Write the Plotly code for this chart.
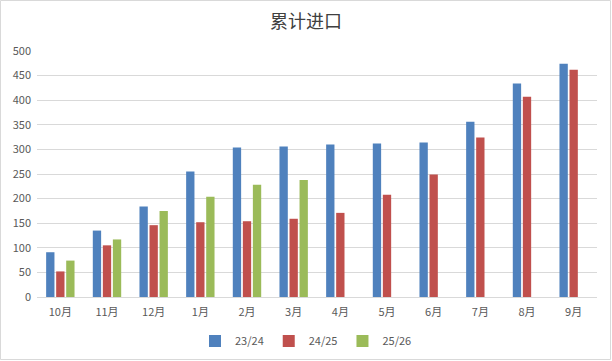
import plotly.graph_objects as go

categories = ["10月", "11月", "12月", "1月", "2月", "3月", "4月", "5月", "6月", "7月", "8月", "9月"]
s_2324 = [91, 135, 184, 255, 304, 306, 310, 312, 314, 356, 434, 474]
s_2425 = [52, 105, 146, 152, 154, 159, 171, 208, 249, 324, 407, 462]
s_2526 = [74, 117, 175, 204, 228, 238, None, None, None, None, None, None]
series_names = ["23/24", "24/25", "25/26"]
colors = ["#4F81BD", "#C0504D", "#9BBB59"]

W, H = 612, 361
ml, mr, mt, mb = 37, 15, 51, 64
pw, ph = W - ml - mr, H - mt - mb

fig = go.Figure()
for name, vals, c in zip(series_names, [s_2324, s_2425, s_2526], colors):
    fig.add_trace(go.Bar(x=categories, y=vals, name=name, marker=dict(color=c, line=dict(width=0))))

font_family = "Microsoft YaHei, Noto Sans CJK SC, sans-serif"
fig.update_layout(
    width=W, height=H,
    margin=dict(l=ml, r=mr, t=mt, b=mb, autoexpand=False),
    paper_bgcolor="white", plot_bgcolor="white",
    barmode="group", bargap=0.355, bargroupgap=0.17,
    font=dict(family=font_family, size=11, color="#595959"),
    title=dict(text="累计进口", x=0.5, xanchor="center", y=1 - 22 / H, yanchor="middle",
               font=dict(size=18, color="#404040", family=font_family)),
    legend=dict(orientation="h", x=(306 - ml) / pw, xanchor="center", y=-(341 - 297) / ph, yanchor="middle",
                font=dict(size=11, color="#595959"), itemwidth=30, tracegroupgap=0),
    showlegend=True,
)
fig.update_yaxes(range=[0, 500], dtick=50, showgrid=True, gridcolor="#D9D9D9", gridwidth=1,
                 zeroline=False, showline=False, ticks="", ticklabelstandoff=5,
                 tickfont=dict(size=11, color="#595959"))
fig.update_xaxes(showline=True, linecolor="#D9D9D9", linewidth=1, ticks="", showgrid=False,
                 ticklabelstandoff=5, tickfont=dict(size=11, color="#595959"))
fig.add_shape(type="rect", xref="paper", yref="paper",
              x0=(-ml + 0.5) / pw, x1=(pw + mr - 1.5) / pw,
              y0=(-mb + 1.5) / ph, y1=(ph + mt - 0.5) / ph,
              line=dict(color="#D9D9D9", width=1), fillcolor="rgba(0,0,0,0)", layer="below")
fig.write_html("out.html", config={"displayModeBar": False},
               post_script="document.body.style.margin='0';")
